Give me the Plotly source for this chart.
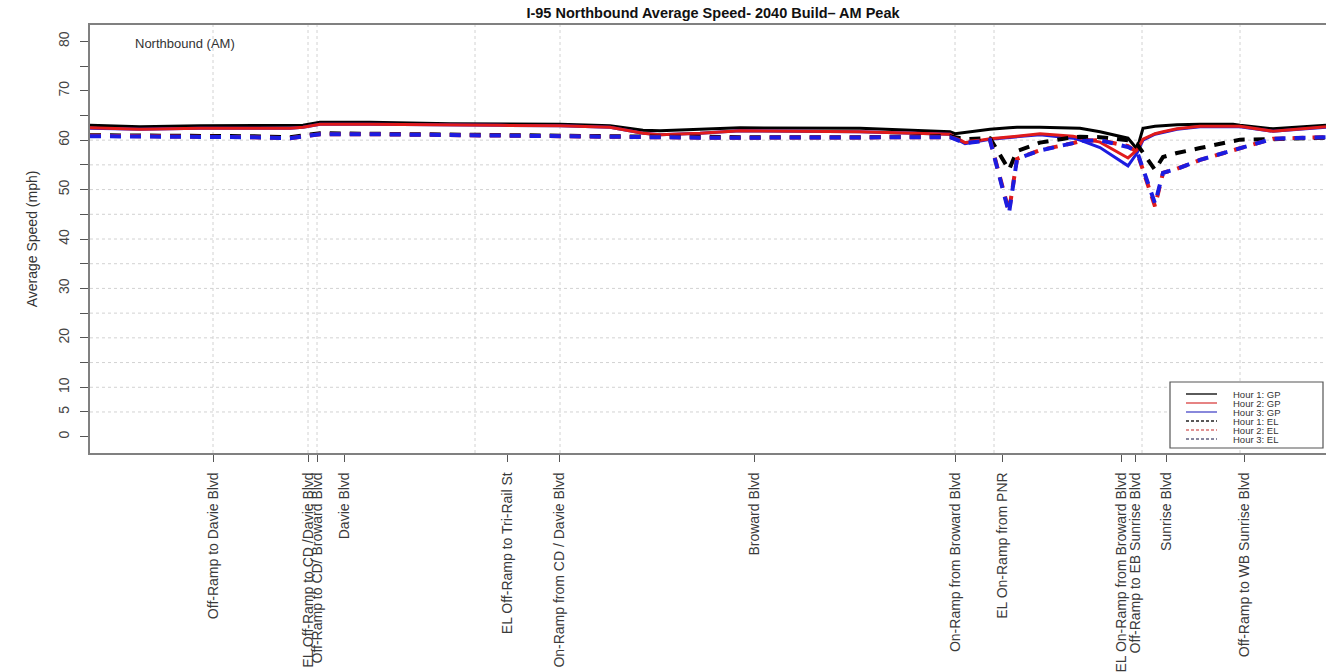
import plotly.graph_objects as go

# ---------------- data ----------------
dist_mi = [0.000, 0.250, 0.550, 0.800, 1.000, 1.065, 1.150, 1.400, 1.800, 2.050,
           2.350, 2.600, 2.765, 2.850, 3.050, 3.250, 3.850, 4.135, 4.300, 4.325,
           4.375, 4.500, 4.595, 4.635, 4.750, 4.915, 4.950, 5.050, 5.190, 5.235,
           5.265, 5.325, 5.365, 5.435, 5.550, 5.715, 5.750, 5.915, 6.180]

hour1_gp = [63.0, 62.7, 62.9, 62.9, 62.9, 63.0, 63.6, 63.6, 63.3, 63.3,
            63.2, 62.9, 62.0, 61.9, 62.2, 62.5, 62.4, 62.0, 61.7, 61.3,
            61.6, 62.2, 62.5, 62.6, 62.6, 62.5, 62.4, 61.7, 60.4, 58.2,
            62.4, 62.8, 62.9, 63.1, 63.2, 63.2, 63.0, 62.3, 63.0]
hour2_gp = [62.5, 62.2, 62.4, 62.4, 62.4, 62.6, 63.2, 63.2, 63.0, 63.0,
            62.9, 62.6, 61.4, 61.1, 61.4, 61.9, 61.7, 61.4, 61.2, 60.6,
            59.5, 60.3, 60.6, 60.8, 61.3, 60.8, 60.5, 59.6, 56.4, 58.0,
            60.2, 61.3, 61.7, 62.3, 62.8, 62.9, 62.8, 61.8, 62.7]
hour3_gp = [62.4, 62.2, 62.4, 62.4, 62.4, 62.6, 63.2, 63.2, 63.0, 63.0,
            62.9, 62.6, 61.4, 61.1, 61.4, 61.9, 61.7, 61.4, 61.2, 60.4,
            59.3, 60.2, 60.5, 60.7, 61.1, 60.4, 60.0, 58.5, 54.8, 57.4,
            60.0, 61.2, 61.6, 62.2, 62.7, 62.8, 62.7, 61.8, 62.6]
hour1_el = [61.0, 61.0, 61.0, 60.8, 60.6, 60.9, 61.4, 61.3, 61.1, 61.0,
            61.0, 60.9, 60.8, 60.7, 60.7, 60.6, 60.6, 60.7, 60.8, 60.6,
            60.2, 60.4, 54.0, 57.8, 59.5, 60.6, 60.7, 60.6, 60.0, 59.2,
            57.5, 54.0, 56.6, 57.4, 58.4, 59.9, 60.1, 60.2, 60.5]
hour2_el = [60.9, 60.8, 60.8, 60.6, 60.4, 60.8, 61.2, 61.2, 61.0, 60.9,
            60.9, 60.8, 60.6, 60.6, 60.5, 60.5, 60.5, 60.6, 60.6, 60.3,
            59.6, 60.1, 45.6, 56.2, 58.0, 59.4, 59.8, 60.0, 58.8, 57.6,
            54.0, 46.6, 53.4, 54.2, 56.0, 58.0, 58.5, 60.3, 60.6]
hour3_el = [60.8, 60.8, 60.8, 60.6, 60.4, 60.8, 61.2, 61.2, 61.0, 60.9,
            60.9, 60.8, 60.6, 60.6, 60.5, 60.5, 60.5, 60.6, 60.6, 60.2,
            59.4, 60.0, 45.2, 56.2, 57.9, 59.4, 59.8, 60.0, 58.6, 57.7,
            54.3, 47.2, 53.4, 54.2, 56.0, 58.0, 58.5, 60.3, 60.6]

tick_pos = [0.615, 1.090, 1.135, 1.270, 2.0875, 2.345, 3.320, 4.325, 4.560,
            5.155, 5.225, 5.380, 5.770]
tick_labels = ["Off-Ramp to Davie Blvd", "EL Off-Ramp to CD /Davie Blvd",
               "Off-Ramp to CD/ Broward Blvd", "Davie Blvd",
               "EL Off-Ramp to Tri-Rail St", "On-Ramp from CD / Davie Blvd",
               "Broward Blvd", "On-Ramp from Broward Blvd", "EL On-Ramp from PNR",
               "EL On-Ramp from Broward Blvd", "Off-Ramp to EB Sunrise Blvd",
               "Sunrise Blvd", "Off-Ramp to WB Sunrise Blvd"]
vgrid_pos = [0.615, 1.090, 1.135, 1.925, 2.350, 4.325, 4.520, 5.260, 5.750]
hgrid_vals = [5, 10, 15, 20, 25, 30, 35, 40, 45, 50, 55, 60]
ytick_major = [0, 5, 10, 20, 30, 40, 50, 60, 70, 80]
ytick_minor = [15, 25, 35, 45, 55, 65, 75]

series_names = ["Hour 1: GP", "Hour 2: GP", "Hour 3: GP",
                "Hour 1: EL", "Hour 2: EL", "Hour 3: EL"]
series_values = [hour1_gp, hour2_gp, hour3_gp, hour1_el, hour2_el, hour3_el]

# ---------------- styles ----------------
BLACK, RED, BLUE = "#000000", "#e01b1b", "#1c1ce0"
colors = [BLACK, RED, BLUE, BLACK, RED, BLUE]
dashes = ["solid", "solid", "solid", "11px,9px", "11px,9px", "11px,9px"]
widths = [3, 3, 3, 4, 4, 4]
draw_order = [0, 2, 1, 3, 4, 5]
FONT = "Arial, Liberation Sans, sans-serif"

W, H = 1326, 672
ML, MR, MT, MB = 90, 0, 25, 219
PW, PH = W - ML - MR, H - MT - MB

fig = go.Figure()
for i in draw_order:
    fig.add_trace(go.Scatter(
        x=dist_mi, y=series_values[i], mode="lines", name=series_names[i],
        line=dict(color=colors[i], width=widths[i], dash=dashes[i]),
        showlegend=False, hoverinfo="x+y+name"))

GRID = "#d2d2d2"
shapes = []
for v in hgrid_vals:
    shapes.append(dict(type="line", xref="paper", yref="y", x0=0, x1=1, y0=v, y1=v,
                       line=dict(color=GRID, width=1, dash="dot"), layer="below"))
for v in vgrid_pos:
    shapes.append(dict(type="line", xref="x", yref="paper", x0=v, x1=v, y0=0, y1=1,
                       line=dict(color=GRID, width=1, dash="dot"), layer="below"))


def px_to_paper(px, py):
    return (px - ML) / PW, (H - MB - py) / PH


# custom compact legend (R-style box)
bx0, by0 = px_to_paper(1170, 448)
bx1, by1 = px_to_paper(1323, 382)
shapes.append(dict(type="rect", xref="paper", yref="paper", x0=bx0, x1=bx1, y0=by0, y1=by1,
                   line=dict(color="#555555", width=1.2), fillcolor="white", layer="above"))
annotations = []
row_py = [394, 403, 412, 421, 430, 439]
leg_dash = ["solid", "solid", "solid", "3px,2px", "3px,2px", "3px,2px"]
leg_col = [BLACK, "#d84040", "#4848c8", "#222222", "#d87070", "#606080"]
for k, name in enumerate(series_names):
    lx0, ly = px_to_paper(1186, row_py[k])
    lx1, _ = px_to_paper(1217, row_py[k])
    tx, _ = px_to_paper(1231, row_py[k])
    shapes.append(dict(type="line", xref="paper", yref="paper", x0=lx0, x1=lx1, y0=ly, y1=ly,
                       line=dict(color=leg_col[k], width=1.3, dash=leg_dash[k]), layer="above"))
    annotations.append(dict(xref="paper", yref="paper", x=tx, y=ly, text=name,
                            showarrow=False, xanchor="left", yanchor="middle",
                            font=dict(family=FONT, size=9.5, color="#333333")))

nx, ny = px_to_paper(185, 44)
annotations.append(dict(xref="paper", yref="paper", x=nx, y=ny, text="Northbound (AM)",
                        showarrow=False, xanchor="center", yanchor="middle",
                        font=dict(family=FONT, size=13, color="#333333")))

fig.update_layout(
    width=W, height=H,
    margin=dict(l=ML, r=MR, t=MT, b=MB, pad=0, autoexpand=False),
    paper_bgcolor="white", plot_bgcolor="white",
    font=dict(family=FONT, size=12, color="#333333"),
    title=dict(text="<b>I-95 Northbound Average Speed- 2040 Build– AM Peak</b>",
               x=(713 - ML) / PW, xref="paper", xanchor="center",
               y=1 - 13 / H, yref="container", yanchor="middle",
               font=dict(family=FONT, size=14.5, color="#111111")),
    shapes=shapes, annotations=annotations,
    showlegend=False,
)
fig.update_xaxes(
    range=[0, PW / 200.0], showgrid=False, zeroline=False, automargin=False,
    showline=True, linecolor="#808080", linewidth=1.5, mirror=True,
    tickmode="array", tickvals=tick_pos, ticktext=tick_labels,
    ticks="outside", ticklen=7, tickcolor="#555555", tickwidth=1,
    tickangle=-90, tickfont=dict(family=FONT, size=14, color="#3a3a3a"),
    ticklabelstandoff=5,
)
fig.update_yaxes(
    range=[-3.3, 83.3], showgrid=False, zeroline=False, automargin=False,
    showline=True, linecolor="#808080", linewidth=1.5, mirror=False,
    tickmode="array", tickvals=ytick_major,
    ticks="outside", ticklen=8, tickcolor="#555555", tickwidth=1,
    tickangle=-90, tickfont=dict(family=FONT, size=14, color="#444444"),
    ticklabelstandoff=6,
    minor=dict(tickmode="array", tickvals=ytick_minor, ticks="outside", ticklen=8,
               tickcolor="#555555", showgrid=False),
    title=dict(text="Average Speed (mph)", standoff=15,
               font=dict(family=FONT, size=14, color="#333333")),
)

# remove the default page margin so the figure sits at the window's top-left corner
fig.write_html("out.html", config={"displayModeBar": False},
               post_script="document.body.style.margin='0px';")
